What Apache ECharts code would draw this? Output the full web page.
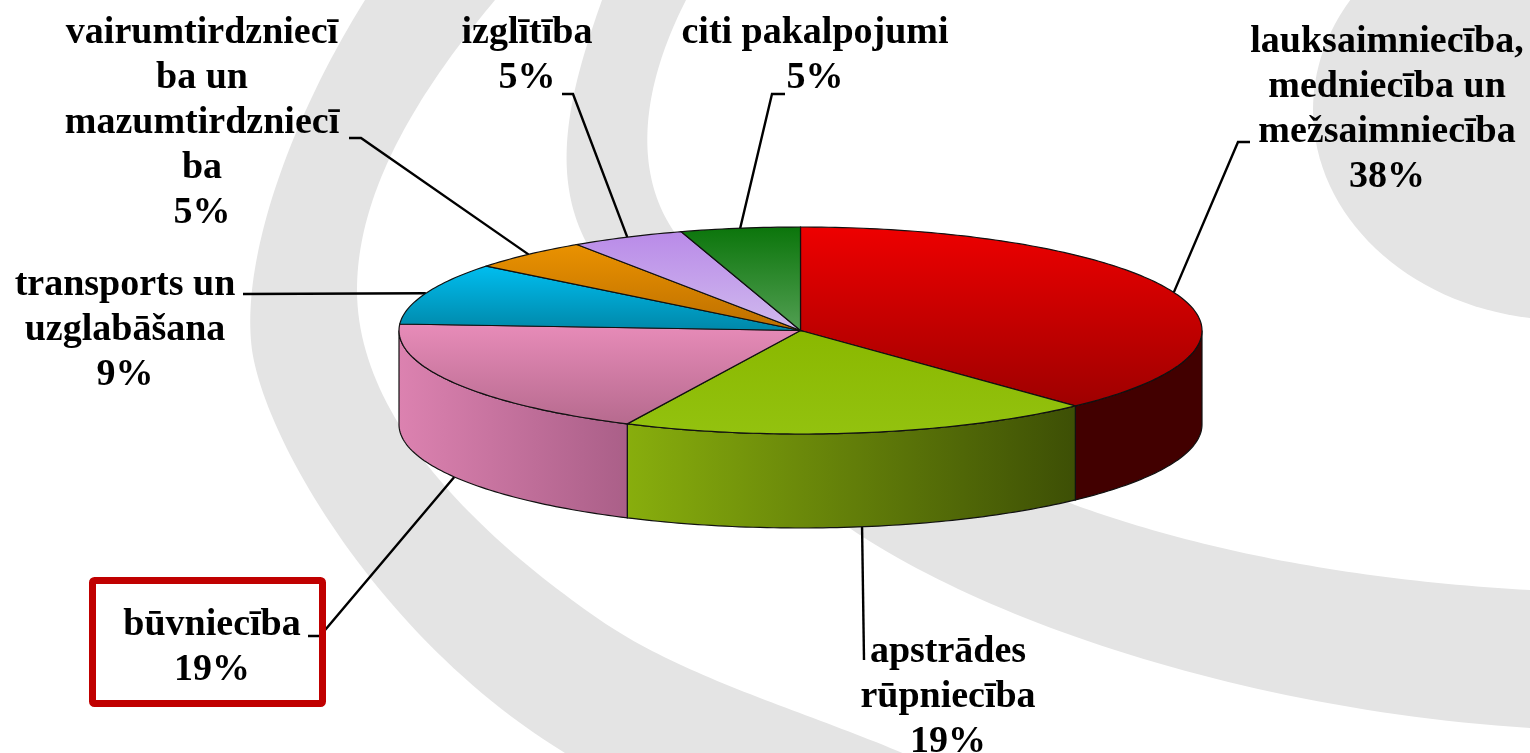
<!DOCTYPE html>
<html>
<head>
<meta charset="utf-8">
<title>Nozares</title>
<style>
	html, body { margin: 0; padding: 0; background: #fff; }
	#main { width: 1530px; height: 753px; }
</style>
<script src="https://cdn.jsdelivr.net/npm/echarts@6/dist/echarts.min.js"></script>
</head>
<body>
<div id="main"></div>
<script>
// sectors, clockwise from the top of the pie
var categories = [
	'lauksaimniecība,\nmedniecība un\nmežsaimniecība',
	'apstrādes\nrūpniecība',
	'būvniecība',
	'transports un\nuzglabāšana',
	'vairumtirdzniecī\nba un\nmazumtirdzniecī\nba',
	'izglītība',
	'citi pakalpojumi'
];
// shares as measured from the slice edges
var shares = [38, 19.1, 18.9, 9.7, 4.9, 4.6, 4.8];
// percentages as printed on the labels
var percentLabels = ['38%', '19%', '19%', '9%', '5%', '5%', '5%'];

var topColors = [
	['#ee0000', '#9e0000'],
	['#8ab800', '#93c20f'],
	['#e88cb9', '#b66a8e'],
	['#00bef0', '#0087a8'],
	['#ea9200', '#bd6f00'],
	['#b98ae8', '#d0baee'],
	['#0b750b', '#539f53']
];
var wallColors = [
	['#420000', '#420000'],
	['#88ae0d', '#3d4f05'],
	['#dc82b0', '#aa5f88']
];

// label centre, leader line bends (the first leader point comes from the slice)
var labelLayout = [
	{x: 1387, y: 110, bend: [[1238, 142], [1250, 142]]},
	{x: 948, y: 697, bend: [[864, 660]], wall: true},
	{x: 212, y: 648, bend: [[320, 636], [308, 636]], wall: true},
	{x: 125, y: 330, bend: [[243, 294]]},
	{x: 202, y: 123, bend: [[361, 138], [349, 138]]},
	{x: 527, y: 56, bend: [[573, 94], [562, 94]]},
	{x: 815, y: 56, bend: [[772, 94], [785, 94]]}
];

var cx = 800.5, cy = 330.5, rx = 401.5, ry = 103.5, depth = 94;

var total = 0;
var startAngles = [];
shares.forEach(function(v) {
	startAngles.push(total / 100 * 360);
	total += v;
});

function rimPoint(deg, dy) {
	var a = deg * Math.PI / 180;
	return [cx + rx * Math.sin(a), cy - ry * Math.cos(a) + (dy || 0)];
}

function sliceRange(i, value) {
	var from = startAngles[i];
	return [from, from + value / total * 360];
}

function arcPoints(from, to, dy) {
	var pts = [];
	for (var d = from; d < to; d += 1) {
		pts.push(rimPoint(d, dy));
	}
	pts.push(rimPoint(to, dy));
	return pts;
}

function vertical(c) {
	return new echarts.graphic.LinearGradient(0, 0, 0, 1, [{offset: 0, color: c[0]}, {offset: 1, color: c[1]}]);
}
function horizontal(c) {
	return new echarts.graphic.LinearGradient(0, 0, 1, 0, [{offset: 0, color: c[0]}, {offset: 1, color: c[1]}]);
}

var edge = {stroke: '#111', lineWidth: 1.2};

function renderWall(params, api) {
	var r = sliceRange(params.dataIndex, api.value(0));
	var from = Math.max(r[0], 90), to = Math.min(r[1], 270);
	if (from >= to) return null;
	var pts = arcPoints(from, to, 0).concat(arcPoints(from, to, depth).reverse());
	return {
		type: 'polygon',
		shape: {points: pts},
		style: {fill: horizontal(wallColors[params.dataIndex]), stroke: edge.stroke, lineWidth: edge.lineWidth}
	};
}

function renderTop(params, api) {
	var r = sliceRange(params.dataIndex, api.value(0));
	var pts = [[cx, cy]].concat(arcPoints(r[0], r[1], 0));
	return {
		type: 'polygon',
		shape: {points: pts},
		style: {fill: vertical(topColors[params.dataIndex]), stroke: edge.stroke, lineWidth: edge.lineWidth}
	};
}

function renderLabel(params, api) {
	var i = params.dataIndex;
	var r = sliceRange(i, api.value(0));
	var lay = labelLayout[i];
	var start = rimPoint((r[0] + r[1]) / 2, lay.wall ? depth : 0);
	return {
		type: 'group',
		children: [{
			type: 'polyline',
			shape: {points: [start].concat(lay.bend)},
			style: {stroke: '#000', lineWidth: 2.4, fill: null}
		}, {
			type: 'text',
			x: lay.x,
			y: lay.y,
			style: {
				text: categories[i] + '\n' + percentLabels[i],
				align: 'center',
				verticalAlign: 'middle',
				fontFamily: '"Liberation Serif"',
				fontWeight: 'bold',
				fontSize: 38,
				lineHeight: 45,
				fill: '#000'
			}
		}]
	};
}

var seriesData = shares.map(function(v) { return [v]; });

// grey slide decoration behind the pie, each edge is a run of cubic curves
var bandGrey = '#e4e4e4';
var bandEdges = [
	{
		outer: [[365, 0], [290, 120], [240, 260], [252, 350], [265, 440], [380, 640], [565, 753]],
		inner: [[495, 0], [420, 90], [357, 190], [357, 290], [357, 420], [480, 537], [600, 620], [690, 682], [820, 715], [930, 765]]
	},
	{
		outer: [[602, 0], [570, 90], [550, 170], [585, 240], [650, 370], [760, 470], [863, 537], [1000, 625], [1250, 710], [1530, 728]],
		inner: [[686, 0], [640, 90], [635, 170], [671, 227], [740, 340], [900, 430], [1075, 505], [1200, 550], [1350, 580], [1530, 590]]
	}
];

function sampleEdge(c) {
	var pts = [];
	for (var s = 0; s + 3 < c.length; s += 3) {
		for (var t = 0; t <= 1; t += 0.02) {
			var u = 1 - t;
			pts.push([
				u * u * u * c[s][0] + 3 * u * u * t * c[s + 1][0] + 3 * u * t * t * c[s + 2][0] + t * t * t * c[s + 3][0],
				u * u * u * c[s][1] + 3 * u * u * t * c[s + 1][1] + 3 * u * t * t * c[s + 2][1] + t * t * t * c[s + 3][1]
			]);
		}
	}
	pts.push(c[c.length - 1]);
	return pts;
}

var graphicEls = bandEdges.map(function(b) {
	return {
		type: 'polygon', silent: true, z: 0,
		shape: {points: sampleEdge(b.outer).concat(sampleEdge(b.inner).reverse())},
		style: {fill: bandGrey}
	};
});
graphicEls.push({type: 'ellipse', silent: true, z: 0, shape: {cx: 1565, cy: 110, rx: 252, ry: 210}, style: {fill: bandGrey}});
// red frame round the highlighted label
graphicEls.push({
	type: 'rect', silent: true, z: 10,
	shape: {x: 92.5, y: 580.5, width: 230, height: 123, r: 2},
	style: {fill: null, stroke: '#c00000', lineWidth: 7}
});

var myChart = echarts.init(document.getElementById('main'));

myChart.setOption({
	animation: false,
	backgroundColor: '#ffffff',
	graphic: {elements: graphicEls},
	series: [
		{type: 'custom', name: 'walls', coordinateSystem: 'none', z: 2, silent: true, renderItem: renderWall, data: seriesData},
		{type: 'custom', name: 'top', coordinateSystem: 'none', z: 3, silent: true, renderItem: renderTop, data: seriesData},
		{type: 'custom', name: 'labels', coordinateSystem: 'none', z: 1, silent: true, renderItem: renderLabel, data: seriesData}
	]
});
</script>
</body>
</html>
